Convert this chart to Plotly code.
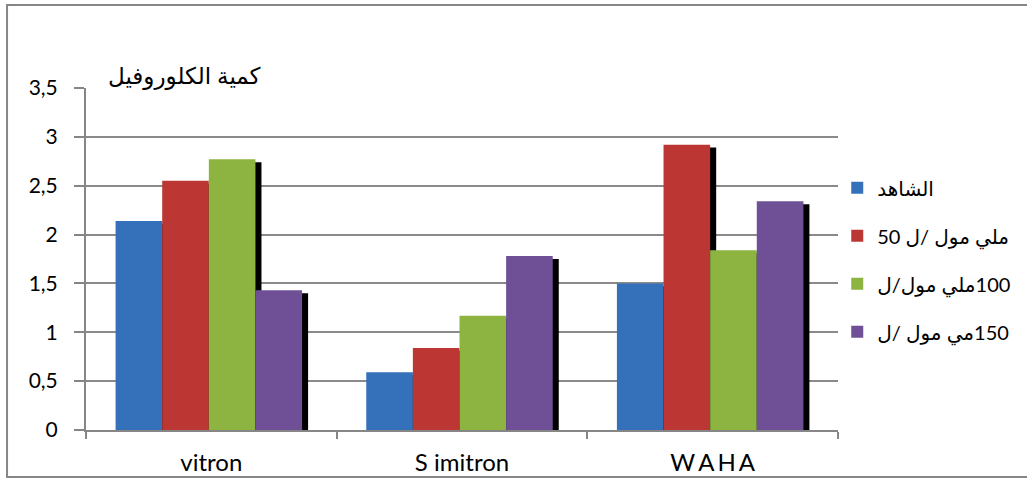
import plotly.graph_objects as go

# Chlorophyll content per variety under salt treatments
varieties = ["vitron", "S imitron", "W\u2009A\u2009H\u2009A"]
series_names = ["الشاهد", "ملي مول /ل 50", "100ملي مول/ل", "150مي مول /ل"]
control = [2.14, 0.59, 1.50]
dose_50 = [2.55, 0.84, 2.92]
dose_100 = [2.77, 1.17, 1.84]
dose_150 = [1.43, 1.78, 2.34]
y_ticks = [0, 0.5, 1, 1.5, 2, 2.5, 3, 3.5]
y_tick_text = ["0", "0,5", "1", "1,5", "2", "2,5", "3", "3,5"]
y_title = "كمية الكلوروفيل"

series_values = [control, dose_50, dose_100, dose_150]
colors = ["#3571bb", "#bc3733", "#8db341", "#6f5096"]

FONT = "Lato, 'DejaVu Sans', sans-serif"
bar_w = 0.186
group_shift = -0.01
shadow_dx = 0.024
shadow_dy = 0.03


def rtl(s):
    # right-to-left embedding so mixed Arabic/number labels read naturally
    return "\u202b" + s + "\u202c"


fig = go.Figure()

# drop shadows first so every bar is painted over them
for i, vals in enumerate(series_values):
    off = -2 * bar_w + i * bar_w + group_shift
    fig.add_trace(go.Bar(
        x=varieties, y=[v - shadow_dy for v in vals],
        width=bar_w, offset=off + shadow_dx,
        marker=dict(color="#000000", line=dict(width=0)),
        showlegend=False, hoverinfo="skip",
    ))

for i, (name, vals) in enumerate(zip(series_names, series_values)):
    off = -2 * bar_w + i * bar_w + group_shift
    fig.add_trace(go.Bar(
        x=varieties, y=vals, name=rtl(name),
        width=bar_w, offset=off,
        marker=dict(color=colors[i], line=dict(width=0)),
        legendgroup=f"g{i}",
    ))

fig.update_layout(
    width=1027, height=480,
    barmode="overlay",
    paper_bgcolor="white", plot_bgcolor="white",
    margin=dict(l=86, r=189, t=88, b=50, autoexpand=False),
    font=dict(family=FONT, size=20, color="#000000"),
    showlegend=True,
    legend=dict(
        x=0.999, xanchor="left", y=0.765, yanchor="top",
        font=dict(family=FONT, size=20, color="#000000"),
        tracegroupgap=19, bgcolor="rgba(0,0,0,0)",
    ),
    xaxis=dict(
        showgrid=False, showline=True, linecolor="#868686", linewidth=2,
        ticks="outside", tickson="boundaries", ticklen=7, tickcolor="#868686",
        tickwidth=2, tickfont=dict(size=24, family=FONT),
        ticklabelstandoff=10, automargin=False,
    ),
    yaxis=dict(
        range=[0, 3.5], tickvals=y_ticks, ticktext=y_tick_text,
        showgrid=True, gridcolor="#8a8a8a", gridwidth=2,
        showline=True, linecolor="#868686", linewidth=2,
        ticks="outside", ticklen=10, tickcolor="#868686", tickwidth=2,
        zeroline=False, tickfont=dict(size=21, family=FONT),
        ticklabelstandoff=12, automargin=False,
    ),
    annotations=[dict(
        text=y_title, xref="paper", yref="paper",
        x=0.131, y=1.038, xanchor="center", yanchor="middle",
        showarrow=False, font=dict(size=23, family=FONT, color="#000000"),
    )],
    shapes=[dict(
        type="rect", xref="paper", yref="paper",
        x0=-0.105, x1=1.3, y0=-0.1374, y1=1.2427,
        line=dict(color="#868686", width=2), fillcolor="rgba(0,0,0,0)",
        layer="below",
    )],
)

fig.write_html("out.html")
